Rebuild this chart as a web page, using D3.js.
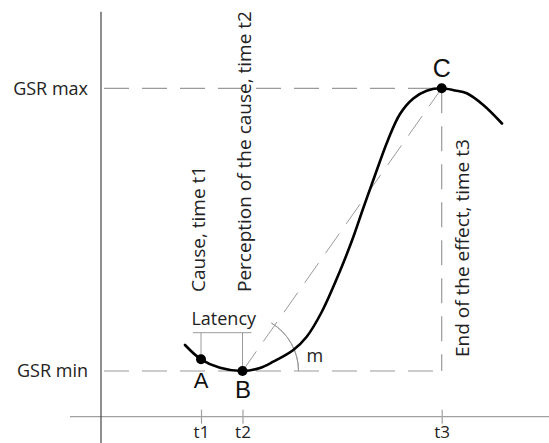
<!DOCTYPE html>
<html><head><meta charset="utf-8">
<script src="https://cdn.jsdelivr.net/npm/d3@7"></script>
<style>html,body{margin:0;padding:0;background:#fff;}svg{display:block;}</style>
</head><body>
<svg id="c" width="549" height="443"></svg>
<script>
// ---- data (time units / GSR units) ----
const curveX = [8.4, 10.0, 11.9, 14.15, 15.9, 17.23, 19.23, 20.57, 22.07, 23.9, 25.23, 26.23, 27.23, 28.7, 29.9, 31.23, 32.57, 34.07, 35.4, 36.57, 38.23, 40.1];
const curveY = [7.17, 5.74, 4.89, 4.57, 4.87, 5.5, 6.67, 8.0, 10.47, 14.57, 17.97, 20.87, 23.67, 27.67, 30.27, 31.82, 32.6, 32.84, 32.62, 32.34, 31.17, 29.32];
const timeValues = [10.0, 14.15, 34.07];
const timeLabels = ["t1", "t2", "t3"];
const gsrValues = [4.57, 32.84];
const gsrLabels = ["GSR min", "GSR max"];
const pointNames = ["A", "B", "C"];
const pointX = [10.0, 14.15, 34.07];
const pointY = [5.74, 4.57, 32.84];
const latencyLevel = 8.4;
const eventLabels = ["Cause, time t1", "Perception of the cause, time t2", "End of the effect, time t3"];

const svg = d3.select("#c");
const x = d3.scaleLinear().domain([0, 44.8]).range([101, 549]);
const y = d3.scaleLinear().domain([0, 41.67]).range([416.7, 0]);
const font = "'Open Sans', sans-serif";
const grey = "#9a9a9a";

// axes lines
svg.append("line").attr("x1", x(-3.1)).attr("x2", x(44.8)).attr("y1", y(0)).attr("y2", y(0))
  .attr("stroke", "#a0a0a0").attr("stroke-width", 1.2);
svg.append("line").attr("x1", x(0)).attr("x2", x(0)).attr("y1", y(40.5)).attr("y2", 443)
  .attr("stroke", "#444").attr("stroke-width", 1.2);

// x axis ticks via d3 axis
const xAxis = svg.append("g").attr("transform", `translate(0,${y(0)})`)
  .call(d3.axisBottom(x).tickValues(timeValues).tickFormat((d, i) => timeLabels[i]).tickSize(7).tickPadding(2));
xAxis.select(".domain").remove();
xAxis.selectAll(".tick line").attr("y1", -7).attr("y2", 7).attr("stroke", "#a0a0a0").attr("stroke-width", 1.2);
xAxis.selectAll(".tick text").attr("font-family", font).attr("font-size", 17).attr("fill", "#222");

// y axis labels
const yAxis = svg.append("g").attr("transform", `translate(${x(0)},0)`)
  .call(d3.axisLeft(y).tickValues(gsrValues).tickFormat((d, i) => gsrLabels[i]).tickSize(0).tickPadding(13));
yAxis.select(".domain").remove();
yAxis.selectAll(".tick text").attr("font-family", font).attr("font-size", 18).attr("fill", "#222");

// dashed reference lines
const dash = "25,13";
svg.append("line").attr("x1", x(0)).attr("x2", x(timeValues[2])).attr("y1", y(gsrValues[1])).attr("y2", y(gsrValues[1]))
  .attr("stroke", grey).attr("stroke-width", 1.2).attr("stroke-dasharray", dash).attr("stroke-dashoffset", -3);
svg.append("line").attr("x1", x(0)).attr("x2", x(timeValues[2])).attr("y1", y(gsrValues[0])).attr("y2", y(gsrValues[0]))
  .attr("stroke", grey).attr("stroke-width", 1.2).attr("stroke-dasharray", dash).attr("stroke-dashoffset", -3);
svg.append("line").attr("x1", x(timeValues[2])).attr("x2", x(timeValues[2])).attr("y1", y(gsrValues[1])).attr("y2", y(gsrValues[0]))
  .attr("stroke", grey).attr("stroke-width", 1.2).attr("stroke-dasharray", dash);
// diagonal B -> C
svg.append("line").attr("x1", x(pointX[1])).attr("y1", y(pointY[1])).attr("x2", x(pointX[2])).attr("y2", y(pointY[2]))
  .attr("stroke", grey).attr("stroke-width", 1).attr("stroke-dasharray", "24,12");

// latency bracket
svg.append("line").attr("x1", x(timeValues[0]) - 8).attr("x2", x(timeValues[1]) + 9).attr("y1", y(latencyLevel)).attr("y2", y(latencyLevel))
  .attr("stroke", grey).attr("stroke-width", 1);
[0, 1].forEach(i => {
  svg.append("line").attr("x1", x(pointX[i])).attr("x2", x(pointX[i])).attr("y1", y(latencyLevel)).attr("y2", y(pointY[i]))
    .attr("stroke", grey).attr("stroke-width", 1);
});
svg.append("text").attr("x", (x(timeValues[0]) + x(timeValues[1])) / 2 + 2).attr("y", y(latencyLevel) - 8)
  .attr("text-anchor", "middle").attr("font-family", font).attr("font-size", 18).attr("fill", "#222").text("Latency");

// angle arc m
const bx = x(pointX[1]), by = y(pointY[1]);
const ang = Math.atan2(by - y(pointY[2]), x(pointX[2]) - bx);
const r = 56;
const arc = d3.arc().innerRadius(r).outerRadius(r).startAngle(Math.PI / 2).endAngle(Math.PI / 2 - ang - 0.07);
svg.append("path").attr("transform", `translate(${bx},${by})`).attr("d", arc())
  .attr("fill", "none").attr("stroke", grey).attr("stroke-width", 1);
svg.append("text").attr("x", bx + 64).attr("y", by - 9).attr("font-family", font).attr("font-size", 18).attr("fill", "#222").text("m");

// curve
const line = d3.line().x(d => x(d[0])).y(d => y(d[1])).curve(d3.curveCatmullRom.alpha(0.5));
svg.append("path").datum(curveX.map((v, i) => [v, curveY[i]])).attr("d", line)
  .attr("fill", "none").attr("stroke", "#000").attr("stroke-width", 2.6).attr("stroke-linecap", "round");

// points
svg.selectAll("circle.pt").data(pointX).enter().append("circle").attr("class", "pt")
  .attr("cx", (d) => x(d)).attr("cy", (d, i) => y(pointY[i])).attr("r", 5).attr("fill", "#000");

// point labels
const lblSize = [22, 24, 25];
const lblDy = [29, 27, -11];
const lblDx = [0, 0.5, 0];
pointNames.forEach((n, i) => {
  svg.append("text").attr("x", x(pointX[i]) + lblDx[i]).attr("y", y(pointY[i]) + lblDy[i])
    .attr("text-anchor", "middle").attr("font-family", "'Liberation Sans', Arial, sans-serif")
    .attr("font-size", lblSize[i]).attr("fill", "#111").text(n);
});

// rotated event labels
const evX = [x(timeValues[0]) + 4, x(timeValues[1]) + 8, x(timeValues[2]) + 27];
const evY = [292, 292, 357];
eventLabels.forEach((t, i) => {
  svg.append("text").attr("transform", `translate(${evX[i]},${evY[i]}) rotate(-90)`)
    .attr("font-family", font).attr("font-size", 19).attr("fill", "#222").text(t);
});
</script>
</body></html>
